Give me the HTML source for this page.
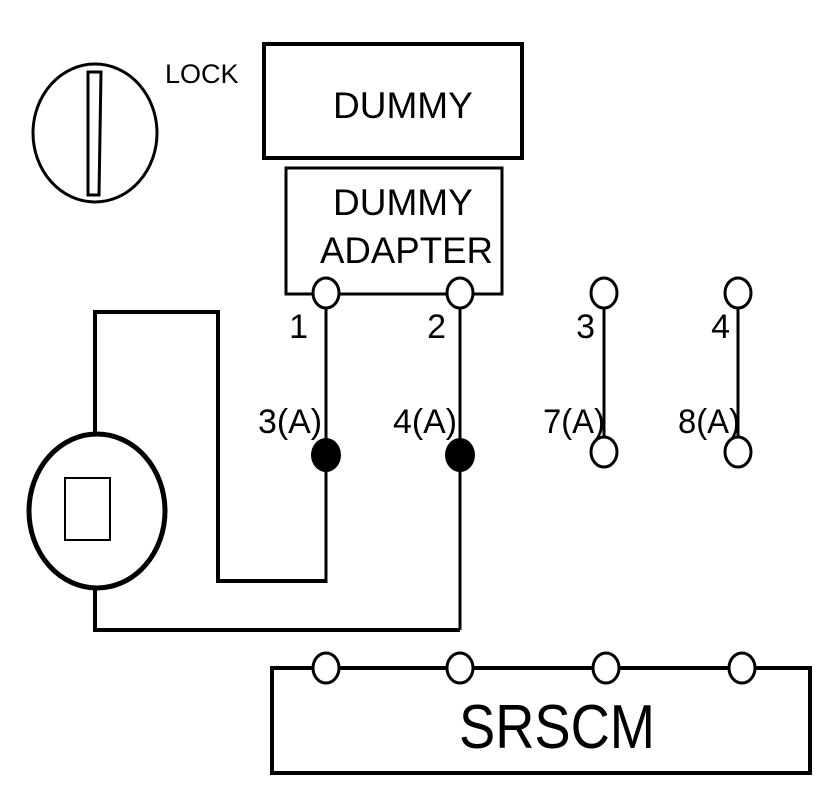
<!DOCTYPE html>
<html><head><meta charset="utf-8"><style>
html,body{margin:0;padding:0;background:#fff;}
svg{display:block;}
text{font-family:"Liberation Sans",Arial,sans-serif;fill:#000;}
</style></head><body>
<svg width="832" height="798" viewBox="0 0 832 798" xmlns="http://www.w3.org/2000/svg">
<rect width="832" height="798" fill="#fff"/>
<!-- Lock -->
<ellipse cx="95" cy="133" rx="62" ry="69" fill="none" stroke="#000" stroke-width="3"/>
<polygon points="88,72 101,72 99,195 88,195" fill="#fff" stroke="#000" stroke-width="3"/>
<text x="165" y="83" font-size="27">LOCK</text>
<!-- Dummy -->
<rect x="264" y="44" width="258" height="114" fill="none" stroke="#000" stroke-width="4"/>
<text x="333" y="118" font-size="37">DUMMY</text>
<!-- Adapter -->
<rect x="286" y="168" width="216" height="126" fill="none" stroke="#000" stroke-width="3"/>
<text x="333" y="215" font-size="37">DUMMY</text>
<text x="320" y="263" font-size="37" textLength="173" lengthAdjust="spacingAndGlyphs">ADAPTER</text>
<!-- verticals -->
<g stroke="#000" stroke-width="3" fill="none">
<line x1="326" y1="307" x2="326" y2="583"/>
<line x1="460" y1="307" x2="460" y2="630"/>
<line x1="604" y1="307" x2="604" y2="440"/>
<line x1="738" y1="307" x2="738" y2="440"/>
</g>
<g stroke="#000" stroke-width="4" fill="none">
<polyline points="95,435 95,312 218,312 218,581 326,581"/>
<polyline points="95,590 95,630 460,630"/>
</g>
<!-- top circles -->
<g fill="#fff" stroke="#000" stroke-width="3">
<ellipse cx="326" cy="293" rx="13" ry="15"/>
<ellipse cx="460" cy="293" rx="13" ry="15"/>
<ellipse cx="604" cy="293" rx="13" ry="15"/>
<ellipse cx="738" cy="293" rx="13" ry="15"/>
<ellipse cx="604" cy="452" rx="13" ry="15"/>
<ellipse cx="738" cy="452" rx="13" ry="15"/>
</g>
<ellipse cx="326" cy="455" rx="15" ry="17" fill="#000"/>
<ellipse cx="460" cy="455" rx="15" ry="17" fill="#000"/>
<!-- labels -->
<g font-size="34">
<text x="308" y="338" text-anchor="end">1</text>
<text x="446" y="338" text-anchor="end">2</text>
<text x="595" y="338" text-anchor="end">3</text>
<text x="730" y="338" text-anchor="end">4</text>
<text x="258" y="433" textLength="64" lengthAdjust="spacingAndGlyphs">3(A)</text>
<text x="393" y="433" textLength="64" lengthAdjust="spacingAndGlyphs">4(A)</text>
<text x="543" y="433" textLength="62" lengthAdjust="spacingAndGlyphs">7(A)</text>
<text x="678" y="433" textLength="62" lengthAdjust="spacingAndGlyphs">8(A)</text>
</g>
<!-- sensor -->
<ellipse cx="97" cy="511" rx="68" ry="77" fill="#fff" stroke="#000" stroke-width="5"/>
<rect x="65" y="478" width="45" height="62" fill="#fff" stroke="#000" stroke-width="2"/>
<!-- SRSCM -->
<rect x="272" y="668" width="538" height="105" fill="none" stroke="#000" stroke-width="4"/>
<g fill="#fff" stroke="#000" stroke-width="3">
<ellipse cx="326" cy="668" rx="13" ry="15"/>
<ellipse cx="460" cy="668" rx="13" ry="15"/>
<ellipse cx="606" cy="668" rx="13" ry="15"/>
<ellipse cx="742" cy="668" rx="13" ry="15"/>
</g>
<text x="459" y="748" font-size="62" textLength="196" lengthAdjust="spacingAndGlyphs">SRSCM</text>
</svg>
</body></html>
